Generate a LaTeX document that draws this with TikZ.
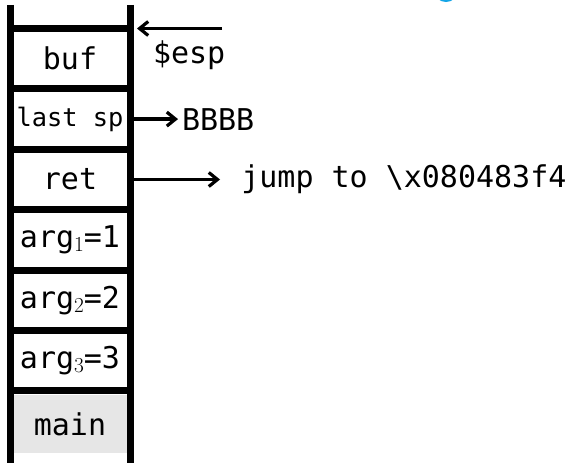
\documentclass[tikz,border=0pt]{standalone}
\usepackage{fontspec}
\setmonofont{DejaVu Sans Mono}
\usepackage{tikz}
\usetikzlibrary{arrows.meta,positioning}
\definecolor{maingray}{RGB}{230,230,230}
\definecolor{topblue}{RGB}{20,165,230}

\newcommand{\argsub}[1]{\raisebox{-3pt}{\fontsize{16}{16}\selectfont\rmfamily #1}}

\tikzset{
  cell/.style={minimum width=90pt,minimum height=45.3pt,inner sep=0pt,outer sep=0pt,
               font=\fontsize{22.5}{24}\selectfont\ttfamily},
  rail/.style={line width=5.25pt},
  ptr/.style={line width=2.4pt,-{Straight Barb[length=6.5pt,width=10.5pt]}},
  lbl/.style={inner sep=0pt,outer sep=0pt,font=\fontsize{22.5}{24}\selectfont\ttfamily},
}

\begin{document}
\begin{tikzpicture}[x=0.75pt,y=-0.75pt]
\useasboundingbox (0,0) rectangle (577,463);

% stack cells
\node[cell] (buf) at (70,58.7) {buf};
\node[cell,font=\fontsize{19}{20}\selectfont\ttfamily] (lastsp) at (70,119.1) {last sp};
\node[cell] (ret) at (70,179.5) {ret};
\node[cell] (argA) at (70,239.9) {arg\argsub{1}=1};
\node[cell] (argB) at (70,300.3) {arg\argsub{2}=2};
\node[cell] (argC) at (70,360.7) {arg\argsub{3}=3};
\node[cell,fill=maingray,minimum height=43.5pt] (main) at (70,424) {main};

% frame of the stack
\foreach \c in {buf,lastsp,ret,argA,argB,argC}
  \draw[rail] (\c.north west) -- (\c.north east);
\draw[rail] (argC.south west) -- (argC.south east);
\draw[rail] (10,5) -- (10,463);
\draw[rail] (130,5) -- (130,463);

% pointers
\coordinate (espfrom) at (222,28.5);
\draw[ptr] (espfrom) -- ([xshift=5.25pt]buf.north east);
\node[lbl,anchor=west] (esp) at (153,55) {\$esp};

\node[lbl,right=39pt of lastsp] (bbbb) {BBBB};
\draw[ptr] (lastsp.east) -- ([xshift=-3pt]bbbb.west);

\node[lbl,right=83.5pt of ret] (jump) {jump to \textbackslash x080483f4};
\draw[ptr] (ret.east) -- ([xshift=-16pt]jump.west);

% cut off mark at the top
\draw[topblue,line width=2pt] (446,-10) circle [radius=8pt];

\end{tikzpicture}
\end{document}
